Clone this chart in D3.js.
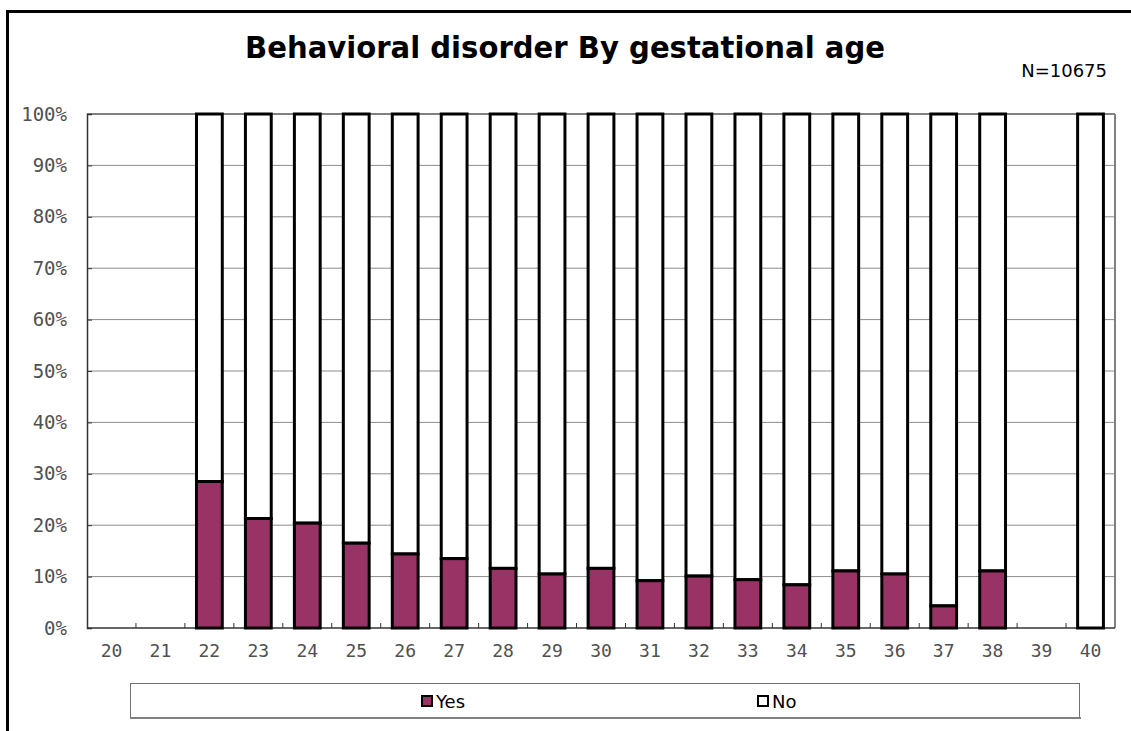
<!DOCTYPE html>
<html>
<head>
<meta charset="utf-8">
<script src="https://cdn.jsdelivr.net/npm/d3@7"></script>
<style>
  body { margin: 0; background: #fff; }
  svg { display: block; }
</style>
</head>
<body>
<svg id="chart"></svg>
<script>
// gestational age (weeks)
var categories = ["20","21","22","23","24","25","26","27","28","29","30","31","32","33","34","35","36","37","38","39","40"];
// percent with behavioral disorder
var yesValues = [null, null, 28.5, 21.3, 20.4, 16.5, 14.4, 13.5, 11.6, 10.5, 11.6, 9.2, 10.1, 9.4, 8.4, 11.1, 10.5, 4.3, 11.1, null, 0];
// percent without
var noValues = [null, null, 71.5, 78.7, 79.6, 83.5, 85.6, 86.5, 88.4, 89.5, 88.4, 90.8, 89.9, 90.6, 91.6, 88.9, 89.5, 95.7, 88.9, null, 100];
var yTicks = [0, 10, 20, 30, 40, 50, 60, 70, 80, 90, 100];
var seriesNames = ["Yes", "No"];
var seriesColors = ["#993366", "#ffffff"];
var titleText = "Behavioral disorder By gestational age";
var noteText = "N=10675";

var svgWidth = 1131,
    svgHeight = 731;

var plot = {left: 87, right: 1115, top: 114, bottom: 628};

var svg = d3.select("#chart")
  .attr("width", svgWidth)
  .attr("height", svgHeight);

// outer chart border (runs off the bottom/right of the picture)
svg.append("rect")
  .attr("x", 7.5).attr("y", 11.5)
  .attr("width", 1200).attr("height", 800)
  .attr("fill", "#fff")
  .attr("stroke", "#000")
  .attr("stroke-width", 3);

var x = d3.scaleBand()
  .domain(categories)
  .range([plot.left, plot.right]);

var y = d3.scaleLinear()
  .domain([0, 100])
  .range([plot.bottom, plot.top]);

// gridlines
svg.append("g")
  .selectAll("line")
  .data(yTicks.filter(function(d) { return d > 0; }))
  .enter().append("line")
  .attr("x1", plot.left).attr("x2", plot.right)
  .attr("y1", function(d) { return y(d); })
  .attr("y2", function(d) { return y(d); })
  .attr("stroke", function(d) { return d == 100 ? "#808080" : "#8c8c8c"; })
  .attr("stroke-width", function(d) { return d == 100 ? 2 : 1; });

// right edge of plot area
svg.append("line")
  .attr("x1", plot.right).attr("x2", plot.right)
  .attr("y1", plot.top).attr("y2", plot.bottom)
  .attr("stroke", "#808080")
  .attr("stroke-width", 2);

// y axis
var yAxis = d3.axisLeft(y)
  .tickValues(yTicks)
  .tickSize(-5)
  .tickPadding(20)
  .tickFormat(function(d) { return d + "%"; });

var gy = svg.append("g")
  .attr("transform", "translate(" + plot.left + ",0)")
  .call(yAxis);
gy.select(".domain").attr("stroke", "#333").attr("stroke-width", 1.5);
gy.selectAll(".tick line").attr("stroke", "#333");
gy.selectAll("text")
  .attr("fill", "#505050")
  .style("font-family", "'DejaVu Sans Mono', 'Liberation Mono', monospace")
  .style("font-size", "19px");

// x axis, ticks sit between categories
var xAxis = d3.axisBottom(x)
  .tickSize(0)
  .tickPadding(16);

var gx = svg.append("g")
  .attr("transform", "translate(0," + plot.bottom + ")")
  .call(xAxis);
gx.select(".domain").remove();
gx.selectAll("text")
  .attr("fill", "#505050")
  .style("font-family", "'DejaVu Sans Mono', 'Liberation Mono', monospace")
  .style("font-size", "18px");

svg.append("g")
  .selectAll("line")
  .data(categories.slice(1))
  .enter().append("line")
  .attr("x1", function(d) { return x(d); })
  .attr("x2", function(d) { return x(d); })
  .attr("y1", plot.bottom).attr("y2", plot.bottom - 5)
  .attr("stroke", "#333");

svg.append("line")
  .attr("x1", plot.left).attr("x2", plot.right)
  .attr("y1", plot.bottom).attr("y2", plot.bottom)
  .attr("stroke", "#333")
  .attr("stroke-width", 1.5);

// stacked bars
var barW = x.bandwidth() / 1.7 - 3;

var rows = categories.map(function(c, i) {
  return {cat: c, yes: yesValues[i], no: noValues[i]};
}).filter(function(d) { return d.yes != null; });

var bars = svg.append("g").selectAll("g")
  .data(rows)
  .enter().append("g");

bars.append("rect")
  .attr("x", function(d) { return x(d.cat) + x.bandwidth() / 2 - barW / 2; })
  .attr("width", barW)
  .attr("y", function(d) { return y(d.yes + d.no); })
  .attr("height", function(d) { return y(d.yes) - y(d.yes + d.no); })
  .attr("fill", seriesColors[1])
  .attr("stroke", "#000")
  .attr("stroke-width", 3);

bars.append("rect")
  .attr("x", function(d) { return x(d.cat) + x.bandwidth() / 2 - barW / 2; })
  .attr("width", barW)
  .attr("y", function(d) { return y(d.yes); })
  .attr("height", function(d) { return y(0) - y(d.yes); })
  .attr("fill", seriesColors[0])
  .attr("stroke", "#000")
  .attr("stroke-width", 3);

// title
svg.append("text")
  .attr("x", 565)
  .attr("y", 58)
  .attr("text-anchor", "middle")
  .style("font-family", "'DejaVu Sans', Verdana, sans-serif")
  .style("font-weight", "bold")
  .style("font-size", "30px")
  .attr("textLength", 640)
  .attr("lengthAdjust", "spacingAndGlyphs")
  .text(titleText);

svg.append("text")
  .attr("x", 1107)
  .attr("y", 77)
  .attr("text-anchor", "end")
  .style("font-family", "'DejaVu Sans', Verdana, sans-serif")
  .style("font-size", "18px")
  .text(noteText);

// legend
var legend = svg.append("g");
legend.append("rect")
  .attr("x", 130.5).attr("y", 683.5)
  .attr("width", 949).attr("height", 34)
  .attr("fill", "#fff")
  .attr("stroke", "#707070")
  .attr("stroke-width", 1);
legend.append("line")
  .attr("x1", 130).attr("x2", 1081)
  .attr("y1", 718).attr("y2", 718)
  .attr("stroke", "#808080")
  .attr("stroke-width", 2);

var legendX = [421, 757];
var items = legend.selectAll(".item")
  .data(seriesNames)
  .enter().append("g")
  .attr("class", "item")
  .attr("transform", function(d, i) { return "translate(" + legendX[i] + ",695)"; });

items.append("rect")
  .attr("x", 1).attr("y", 1)
  .attr("width", 10).attr("height", 10)
  .attr("fill", function(d, i) { return seriesColors[i]; })
  .attr("stroke", "#000")
  .attr("stroke-width", 2);

items.append("text")
  .attr("x", 15)
  .attr("y", 13)
  .style("font-family", "'DejaVu Sans', Verdana, sans-serif")
  .style("font-size", "18px")
  .text(function(d) { return d; });
</script>
</body>
</html>
